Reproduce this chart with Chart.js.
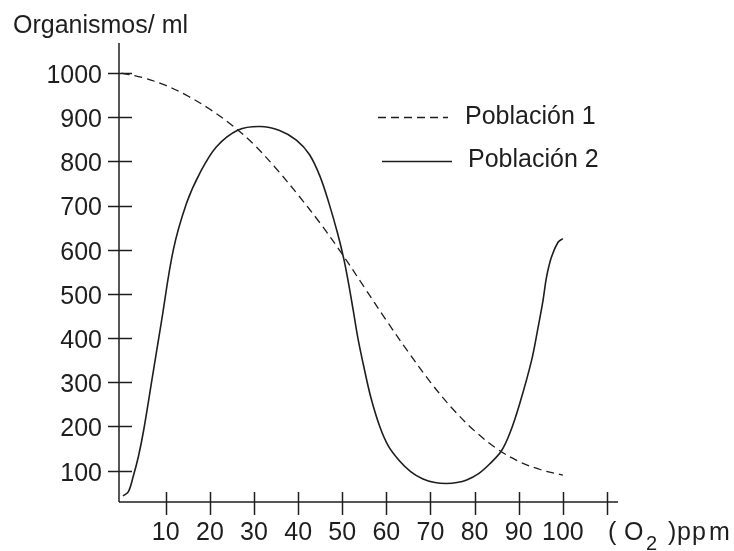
<!DOCTYPE html>
<html>
<head>
<meta charset="utf-8">
<script src="https://cdn.jsdelivr.net/npm/chart.js@4.4.1/dist/chart.umd.min.js"></script>
<style>
  html, body { margin: 0; padding: 0; background: #fff; }
  canvas { display: block; }
</style>
</head>
<body>
<canvas id="c" width="734" height="551"></canvas>
<script>
// Oxygen concentration (ppm) and population density (organisms/ml)
const pop1X = [0, 5, 10, 15, 20, 25, 30, 35, 40, 45, 50, 55, 60, 65, 70, 75, 80, 85, 90, 95, 100];
const pop1Y = [1000, 989, 972, 948, 918, 882, 838, 784, 724, 660, 590, 515, 440, 368, 300, 240, 190, 150, 121, 102, 90];

const pop2X = [0.3, 1.5, 2.6, 3.8, 5, 7, 9, 11.7, 14.7, 17.7, 21.5, 26.4, 31.3, 35.8, 39.6, 42.6, 45, 47, 49, 50.4, 51.5, 52.5, 53.6, 55, 56.5, 58.5, 60.5, 63, 65.5, 68.3, 71, 73.6, 76, 78.2, 81, 83.4, 86.1, 88, 90.2, 92.9, 94.4, 95.5, 96.3, 97.4, 98.9, 100];
const pop2Y = [43, 52, 86, 132, 192, 314, 436, 599, 705, 773, 833, 871, 879, 870, 848, 815, 765, 705, 635, 577, 520, 462, 397, 330, 265, 200, 155, 122, 98, 81, 73, 71, 73, 79, 94, 115, 145, 185, 251, 349, 425, 485, 538, 583, 617, 625];

const seriesNames = ['Población 1', 'Población 2'];
const xTickValues = [10, 20, 30, 40, 50, 60, 70, 80, 90, 100, 110];
const xTickLabels = ['10', '20', '30', '40', '50', '60', '70', '80', '90', '100', ''];
const yTickValues = [100, 200, 300, 400, 500, 600, 700, 800, 900, 1000];
const yTitle = 'Organismos/ ml';

const INK = '#1e1e1e';
const FONT = 'Liberation Sans, Arial, sans-serif';

const toPoints = (xs, ys) => xs.map((x, i) => ({ x, y: ys[i] }));

// Axes with ticks crossing the lines, the legend and the axis captions
const decorations = {
  id: 'decorations',
  afterDraw(chart) {
    const { ctx, chartArea: a, scales: { x, y } } = chart;
    ctx.save();
    ctx.strokeStyle = INK;
    ctx.fillStyle = INK;
    ctx.lineWidth = 1.5;
    ctx.lineCap = 'butt';

    const seg = (x1, y1, x2, y2) => {
      ctx.beginPath(); ctx.moveTo(x1, y1); ctx.lineTo(x2, y2); ctx.stroke();
    };

    // axis lines
    seg(a.left, a.top, a.left, a.bottom);
    seg(a.left, a.bottom, a.right, a.bottom);

    // tick marks crossing the axes
    yTickValues.forEach(v => {
      const p = Math.round(y.getPixelForValue(v)) + 0.5;
      seg(a.left - 11, p, a.left + 13, p);
    });
    xTickValues.forEach(v => {
      const p = Math.round(x.getPixelForValue(v)) + 0.5;
      seg(p, a.bottom - 10, p, a.bottom + 13);
    });

    // y-axis caption
    ctx.font = '25px ' + FONT;
    ctx.textAlign = 'left';
    ctx.textBaseline = 'alphabetic';
    ctx.fillText(yTitle, 13, 33);

    // x-axis caption: ( O2 ) ppm
    ctx.fillText('(', 608, 540);
    ctx.fillText('O', 624, 540);
    ctx.font = '20px ' + FONT;
    ctx.fillText('2', 646, 550);
    ctx.font = '25px ' + FONT;
    ctx.fillText(')', 668, 540);
    ctx.fillText('p', 677, 540);
    ctx.fillText('p', 692, 540);
    ctx.fillText('m', 709, 540);

    // legend
    const ds = chart.data.datasets;
    const rows = [
      { x1: 378, x2: 448, y: 117, tx: 465, ty: 124 },
      { x1: 382, x2: 452, y: 161, tx: 468, ty: 167 }
    ];
    rows.forEach((r, i) => {
      ctx.save();
      ctx.lineWidth = ds[i].borderWidth;
      ctx.setLineDash(ds[i].borderDash || []);
      seg(r.x1, r.y + 0.5, r.x2, r.y + 0.5);
      ctx.restore();
      ctx.fillText(ds[i].label, r.tx, r.ty);
    });
    ctx.restore();
  }
};

new Chart(document.getElementById('c'), {
  type: 'line',
  data: {
    datasets: [
      {
        label: seriesNames[0],
        data: toPoints(pop1X, pop1Y),
        borderColor: INK,
        borderWidth: 1.3,
        borderDash: [8, 5],
        pointRadius: 0,
        tension: 0.35,
        fill: false
      },
      {
        label: seriesNames[1],
        data: toPoints(pop2X, pop2Y),
        borderColor: INK,
        borderWidth: 1.6,
        pointRadius: 0,
        tension: 0.35,
        fill: false
      }
    ]
  },
  options: {
    responsive: false,
    animation: false,
    devicePixelRatio: 1,
    layout: { padding: { top: 43, right: 116, left: 0, bottom: 0 } },
    plugins: { legend: { display: false }, tooltip: { enabled: false }, title: { display: false } },
    scales: {
      x: {
        type: 'linear',
        min: -0.6,
        max: 112.5,
        grid: { display: false, drawTicks: false },
        border: { display: false },
        afterBuildTicks: s => { s.ticks = xTickValues.map(v => ({ value: v })); },
        afterFit: s => { s.height = 49; },
        ticks: {
          color: INK,
          font: { family: FONT, size: 25 },
          padding: 16,
          maxRotation: 0,
          autoSkip: false,
          callback: v => {
            const i = xTickValues.indexOf(v);
            return i >= 0 ? xTickLabels[i] : '';
          }
        }
      },
      y: {
        type: 'linear',
        min: 29,
        max: 1068,
        grid: { display: false, drawTicks: false },
        border: { display: false },
        afterBuildTicks: s => { s.ticks = yTickValues.map(v => ({ value: v })); },
        afterFit: s => { s.width = 119; },
        ticks: {
          color: INK,
          font: { family: FONT, size: 25 },
          padding: 17,
          labelOffset: 3,
          autoSkip: false,
          callback: v => String(v)
        }
      }
    }
  },
  plugins: [decorations]
});
</script>
</body>
</html>
